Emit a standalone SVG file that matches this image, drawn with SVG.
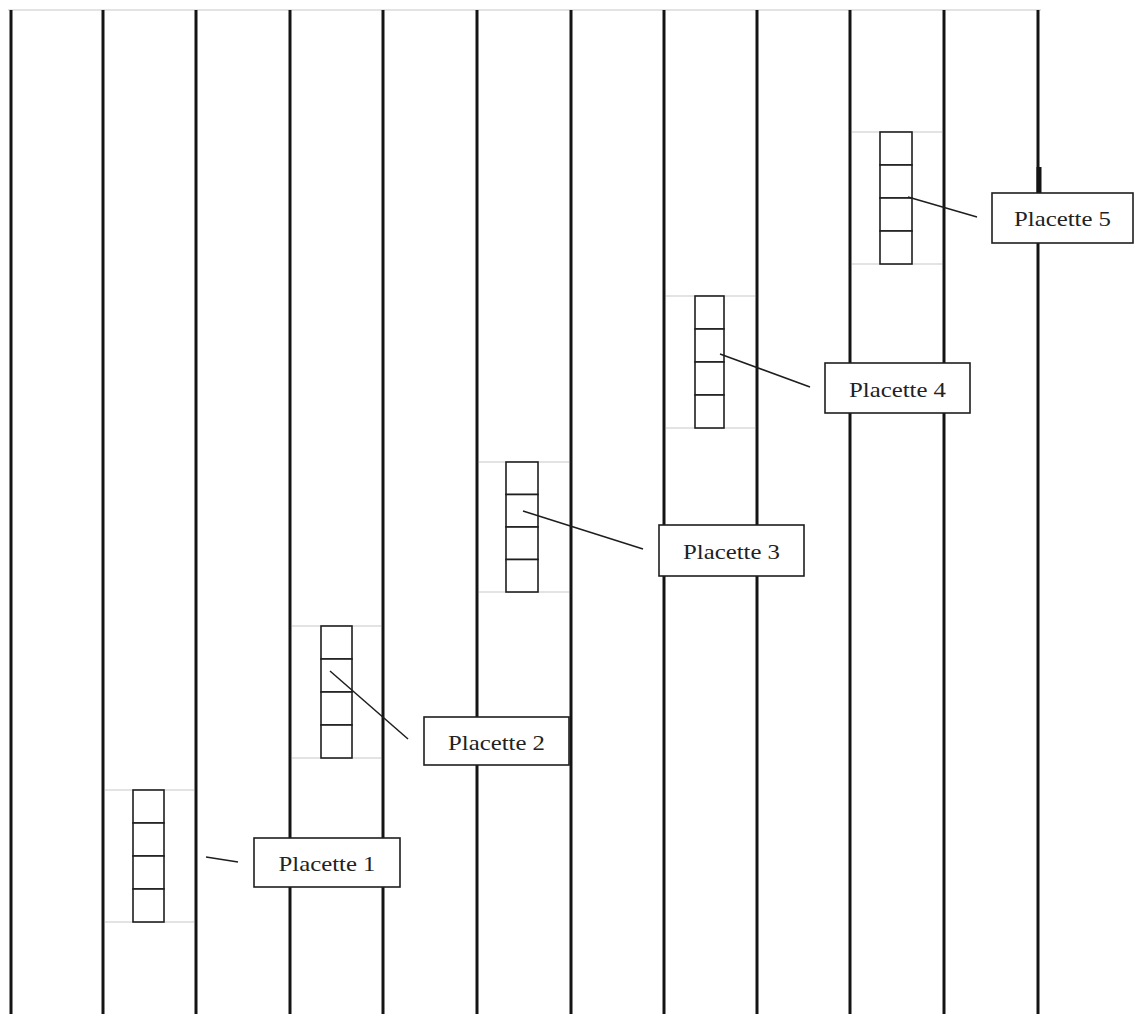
<svg xmlns="http://www.w3.org/2000/svg" width="1135" height="1014" viewBox="0 0 1135 1014">
<style>
.v{stroke:#141414;stroke-width:3;fill:none}
.g{stroke:#c8c8c8;stroke-width:1.2;fill:none}
.cell{stroke:#1e1e1e;stroke-width:1.6;fill:#fff}
.lbl{stroke:#1e1e1e;stroke-width:1.6;fill:#fff}
.c{stroke:#1e1e1e;stroke-width:1.5;fill:none}
text{font-family:"Liberation Serif","Times New Roman",serif;font-size:21px;fill:#222;text-anchor:middle}
</style>
<rect width="1135" height="1014" fill="#fff"/>
<g id="lanes">
<line class="g" x1="8" y1="10" x2="1041" y2="10"/>
<line class="v" x1="11" y1="10" x2="11" y2="1014"/>
<line class="v" x1="103" y1="10" x2="103" y2="1014"/>
<line class="v" x1="196" y1="10" x2="196" y2="1014"/>
<line class="v" x1="290" y1="10" x2="290" y2="1014"/>
<line class="v" x1="383" y1="10" x2="383" y2="1014"/>
<line class="v" x1="477" y1="10" x2="477" y2="1014"/>
<line class="v" x1="571" y1="10" x2="571" y2="1014"/>
<line class="v" x1="664" y1="10" x2="664" y2="1014"/>
<line class="v" x1="757" y1="10" x2="757" y2="1014"/>
<line class="v" x1="850" y1="10" x2="850" y2="1014"/>
<line class="v" x1="944" y1="10" x2="944" y2="1014"/>
<line class="v" x1="1038" y1="10" x2="1038" y2="1014"/>
<line x1="1039" y1="167" x2="1039" y2="193" stroke="#141414" stroke-width="5"/>
</g>
<g id="plot1">
<line class="g" x1="105" y1="790" x2="194" y2="790"/>
<line class="g" x1="105" y1="922" x2="194" y2="922"/>
<rect class="cell" x="133" y="790" width="31" height="33"/>
<rect class="cell" x="133" y="823" width="31" height="33"/>
<rect class="cell" x="133" y="856" width="31" height="33"/>
<rect class="cell" x="133" y="889" width="31" height="33"/>
</g>
<g id="plot2">
<line class="g" x1="292" y1="626" x2="381" y2="626"/>
<line class="g" x1="292" y1="758" x2="381" y2="758"/>
<rect class="cell" x="321" y="626" width="31" height="33"/>
<rect class="cell" x="321" y="659" width="31" height="33"/>
<rect class="cell" x="321" y="692" width="31" height="33"/>
<rect class="cell" x="321" y="725" width="31" height="33"/>
</g>
<g id="plot3">
<line class="g" x1="479" y1="462" x2="569" y2="462"/>
<line class="g" x1="479" y1="592" x2="569" y2="592"/>
<rect class="cell" x="506" y="462" width="32" height="32.5"/>
<rect class="cell" x="506" y="494.5" width="32" height="32.5"/>
<rect class="cell" x="506" y="527" width="32" height="32.5"/>
<rect class="cell" x="506" y="559.5" width="32" height="32.5"/>
</g>
<g id="plot4">
<line class="g" x1="666" y1="296" x2="755" y2="296"/>
<line class="g" x1="666" y1="428" x2="755" y2="428"/>
<rect class="cell" x="695" y="296" width="29" height="33"/>
<rect class="cell" x="695" y="329" width="29" height="33"/>
<rect class="cell" x="695" y="362" width="29" height="33"/>
<rect class="cell" x="695" y="395" width="29" height="33"/>
</g>
<g id="plot5">
<line class="g" x1="852" y1="132" x2="942" y2="132"/>
<line class="g" x1="852" y1="264" x2="942" y2="264"/>
<rect class="cell" x="880" y="132" width="32" height="33"/>
<rect class="cell" x="880" y="165" width="32" height="33"/>
<rect class="cell" x="880" y="198" width="32" height="33"/>
<rect class="cell" x="880" y="231" width="32" height="33"/>
</g>
<g id="connectors">
<line class="c" x1="206" y1="857" x2="238" y2="862"/>
<line class="c" x1="330" y1="671" x2="408" y2="739"/>
<line class="c" x1="523" y1="511" x2="643" y2="549"/>
<line class="c" x1="720" y1="354" x2="810" y2="387"/>
<line class="c" x1="908" y1="197" x2="977" y2="217"/>
</g>
<g id="label1">
<rect class="lbl" x="254" y="838" width="146" height="49"/>
<text x="327" y="871" textLength="97" lengthAdjust="spacingAndGlyphs">Placette 1</text>
</g>
<g id="label2">
<rect class="lbl" x="424" y="717" width="145" height="48"/>
<text x="496.5" y="750" textLength="97" lengthAdjust="spacingAndGlyphs">Placette 2</text>
</g>
<g id="label3">
<rect class="lbl" x="659" y="525" width="145" height="51"/>
<text x="731.5" y="559" textLength="97" lengthAdjust="spacingAndGlyphs">Placette 3</text>
</g>
<g id="label4">
<rect class="lbl" x="825" y="363" width="145" height="50"/>
<text x="897.5" y="397" textLength="97" lengthAdjust="spacingAndGlyphs">Placette 4</text>
</g>
<g id="label5">
<rect class="lbl" x="992" y="193" width="141" height="50"/>
<text x="1062.5" y="226" textLength="97" lengthAdjust="spacingAndGlyphs">Placette 5</text>
</g>
</svg>
